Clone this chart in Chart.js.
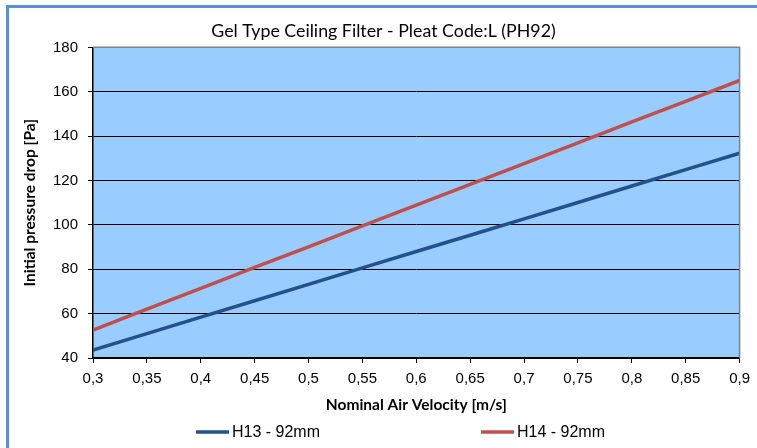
<!DOCTYPE html>
<html>
<head>
<meta charset="utf-8">
<script src="https://cdn.jsdelivr.net/npm/chart.js@4"></script>
<style>
  html, body { margin: 0; padding: 0; background: #fff; }
  #wrap { width: 757px; height: 448px; }
</style>
</head>
<body>
<div id="wrap"><canvas id="chart" width="757" height="448"></canvas></div>
<script>
// air velocity [m/s]
const velocities = [0.3, 0.35, 0.4, 0.45, 0.5, 0.55, 0.6, 0.65, 0.7, 0.75, 0.8, 0.85, 0.9];
// initial pressure drop [Pa]
const h13 = [43.6, 51, 58.4, 65.8, 73.2, 80.6, 88, 95.3, 102.7, 110.1, 117.5, 124.9, 132.3];
const h14 = [52.6, 62, 71.4, 80.8, 90.1, 99.5, 108.9, 118.2, 127.6, 137, 146.4, 155.7, 165.1];
const seriesNames = ['H13 - 92mm', 'H14 - 92mm'];
const yTicks = { min: 40, max: 180, step: 20 };

const toPoints = (ys) => velocities.map((v, i) => ({ x: v, y: ys[i] }));

// frame, plot background, gray plot border and the legend
const decorPlugin = {
  id: 'decor',
  beforeDraw(chart) {
    const { ctx, chartArea: a } = chart;
    ctx.save();
    ctx.fillStyle = '#ffffff';
    ctx.fillRect(0, 0, chart.width, chart.height);
    ctx.fillStyle = '#5b8fd8';
    ctx.fillRect(6, 5, chart.width - 6, 3);
    ctx.fillRect(6, 5, 3, chart.height - 5);
    ctx.fillStyle = '#99ccff';
    ctx.fillRect(a.left, a.top, a.right - a.left, a.bottom - a.top);
    ctx.restore();
  },
  afterDatasetsDraw(chart) {
    const { ctx, chartArea: a } = chart;
    ctx.save();
    ctx.strokeStyle = '#808080';
    ctx.lineWidth = 1.5;
    ctx.beginPath();
    ctx.moveTo(a.left, a.top);
    ctx.lineTo(a.right, a.top);
    ctx.lineTo(a.right, a.bottom);
    ctx.stroke();
    ctx.restore();
  },
  afterDraw(chart) {
    const { ctx } = chart;
    const starts = [196, 481];
    const y = 432;
    ctx.save();
    ctx.font = '16px "Liberation Sans", Arial, sans-serif';
    ctx.textBaseline = 'middle';
    chart.data.datasets.forEach((ds, i) => {
      ctx.strokeStyle = ds.borderColor;
      ctx.lineWidth = 3.5;
      ctx.beginPath();
      ctx.moveTo(starts[i], y);
      ctx.lineTo(starts[i] + 33, y);
      ctx.stroke();
      ctx.fillStyle = '#000';
      ctx.fillText(ds.label, starts[i] + 36, y + 1);
    });
    ctx.restore();
  }
};

new Chart(document.getElementById('chart'), {
  type: 'line',
  data: {
    datasets: [
      {
        label: seriesNames[0],
        data: toPoints(h13),
        borderColor: '#24508e',
        borderWidth: 3.5,
        pointRadius: 0,
        tension: 0
      },
      {
        label: seriesNames[1],
        data: toPoints(h14),
        borderColor: '#c0504d',
        borderWidth: 3.5,
        pointRadius: 0,
        tension: 0
      }
    ]
  },
  options: {
    responsive: false,
    animation: false,
    layout: { padding: { left: 25, right: 15, top: 0, bottom: 28 } },
    plugins: {
      legend: { display: false },
      tooltip: { enabled: false },
      title: {
        display: true,
        text: 'Gel Type Ceiling Filter - Pleat Code:L (PH92)',
        color: '#000',
        font: { family: 'Lato, "Open Sans", sans-serif', size: 17.8, weight: 'normal' },
        padding: { top: 21, bottom: 5 }
      }
    },
    scales: {
      x: {
        type: 'linear',
        min: velocities[0],
        max: velocities[velocities.length - 1],
        afterFit(scale) { scale.height = 62; },
        border: { display: true, color: '#000', width: 1.5 },
        grid: { drawOnChartArea: false, drawTicks: true, tickLength: 5, color: '#000' },
        ticks: {
          stepSize: 0.05,
          padding: 7,
          color: '#000',
          font: { family: '"Liberation Sans", Arial, sans-serif', size: 15 },
          maxRotation: 0,
          callback: (v) => Number(v.toFixed(2)).toString().replace('.', ',')
        },
        title: {
          display: true,
          text: 'Nominal Air Velocity [m/s]',
          color: '#000',
          font: { family: 'Lato, sans-serif', size: 15.5, weight: 'bold' },
          padding: { top: 0, bottom: 6 }
        }
      },
      y: {
        min: yTicks.min,
        max: yTicks.max,
        afterFit(scale) { scale.width = 68; },
        border: { display: true, color: '#000', width: 1.5 },
        grid: {
          color: (c) => (c.tick && c.tick.value === yTicks.max ? 'rgba(0,0,0,0)' : '#000'),
          tickColor: '#000',
          tickLength: 5,
          lineWidth: 1
        },
        ticks: {
          stepSize: yTicks.step,
          padding: 10,
          color: '#000',
          font: { family: '"Liberation Sans", Arial, sans-serif', size: 15 }
        },
        title: {
          display: true,
          text: 'Initial pressure drop [Pa]',
          color: '#000',
          font: { family: 'Lato, sans-serif', size: 15.5, weight: 'bold' },
          padding: { top: -4, bottom: 0 }
        }
      }
    }
  },
  plugins: [decorPlugin]
});
</script>
</body>
</html>
